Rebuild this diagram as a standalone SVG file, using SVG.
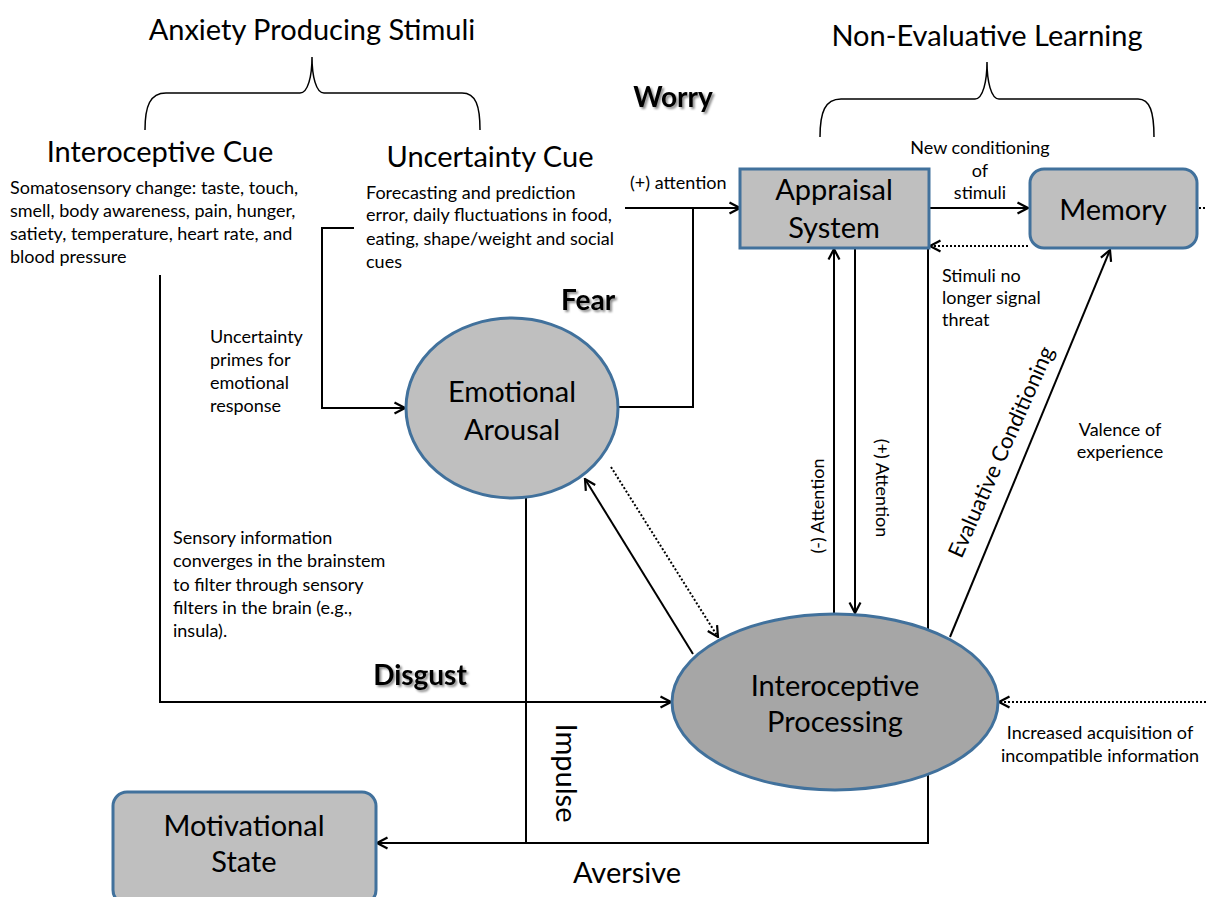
<svg xmlns="http://www.w3.org/2000/svg" width="1206" height="897" viewBox="0 0 1206 897">
  <defs>
    <marker id="arrow" viewBox="0 0 14 14" refX="12.5" refY="7" markerWidth="14" markerHeight="14" markerUnits="userSpaceOnUse" orient="auto">
      <path d="M2,1.5 L12.5,7 L2,12.5" fill="none" stroke="#000" stroke-width="2.2"/>
    </marker>
    <filter id="shadow" x="-20%" y="-30%" width="140%" height="160%">
      <feDropShadow dx="2" dy="2" stdDeviation="1.2" flood-color="#000" flood-opacity="0.45"/>
    </filter>
    <style>
      text { font-family: Lato, "Liberation Sans", sans-serif; fill: #000; }
      .title { font-size: 29px; }
      .node { font-size: 29px; text-anchor: middle; }
      .small { font-size: 18px; }
      .mid { text-anchor: middle; }
      .bold { font-size: 28px; font-weight: bold; filter: url(#shadow); }
      .line { fill: none; stroke: #000; stroke-width: 2; }
      .dot { fill: none; stroke: #000; stroke-width: 2; stroke-dasharray: 2 2; }
      .arr { marker-end: url(#arrow); }
      .brace { fill: none; stroke: #000; stroke-width: 1.5; }
      .shape { fill: #bfbfbf; stroke: #41719c; stroke-width: 3; }
      .dark { fill: #a6a6a6; }
    </style>
  </defs>

  <rect x="0" y="0" width="1206" height="897" fill="#fff"/>

  <!-- headings and braces -->
  <g id="headings">
    <text class="title mid" x="312" y="40">Anxiety Producing Stimuli</text>
    <path class="brace" d="M145,130 C145,106 150,93 166,93 L300,93 C308,93 312,76 312,57 C312,76 316,93 324,93 L462,93 C476,93 480,106 480,130"/>
    <text class="title mid" x="987" y="46">Non-Evaluative Learning</text>
    <path class="brace" d="M820,137 C820,112 825,99 841,99 L975,99 C983,99 987,81 987,62 C987,81 991,99 999,99 L1138,99 C1150,99 1154,112 1154,137"/>
  </g>

  <!-- connectors -->
  <g id="connectors">
    <polyline class="line arr" points="354,228 322,228 322,408 405,408"/>
    <polyline class="line arr" points="160,275 160,702 671,702"/>
    <polyline class="line" points="618,407 693,407 693,208"/>
    <line class="line arr" x1="625" y1="208" x2="740" y2="208"/>
    <line class="line arr" x1="929" y1="208" x2="1028" y2="208"/>
    <line class="dot arr" x1="1028" y1="246" x2="930" y2="246"/>
    <line class="dot" x1="1199" y1="208" x2="1206" y2="208"/>
    <line class="line arr" x1="834" y1="614" x2="834" y2="249"/>
    <line class="line arr" x1="855" y1="248" x2="855" y2="613"/>
    <polyline class="line arr" points="928,248 928,843 377,843"/>
    <line class="line" x1="526" y1="497" x2="526" y2="843"/>
    <line class="line arr" x1="950" y1="637" x2="1110" y2="250"/>
    <line class="dot arr" x1="1206" y1="702" x2="999" y2="702"/>
    <line class="line arr" x1="693" y1="654" x2="585" y2="479"/>
    <line class="dot arr" x1="611" y1="467" x2="718" y2="637"/>
  </g>

  <!-- cue descriptions -->
  <g id="interoceptive-cue">
    <text class="title mid" x="160" y="162">Interoceptive Cue</text>
    <text class="small" x="10" y="194">Somatosensory change: taste, touch,</text>
    <text class="small" x="10" y="217">smell, body awareness, pain, hunger,</text>
    <text class="small" x="10" y="240">satiety, temperature, heart rate, and</text>
    <text class="small" x="10" y="263">blood pressure</text>
  </g>
  <g id="uncertainty-cue">
    <text class="title mid" x="490" y="167">Uncertainty  Cue</text>
    <text class="small" x="366" y="199">Forecasting and prediction</text>
    <text class="small" x="366" y="221">error, daily fluctuations in food,</text>
    <text class="small" x="366" y="245">eating, shape/weight and social</text>
    <text class="small" x="366" y="268">cues</text>
  </g>

  <!-- connector labels -->
  <g id="labels">
    <text class="bold mid" x="673" y="107">Worry</text>
    <text class="bold mid" x="588" y="310">Fear</text>
    <text class="bold mid" x="420" y="685">Disgust</text>
    <text class="small" x="630" y="189">(+) attention</text>
    <text class="small mid" x="980" y="154">New conditioning</text>
    <text class="small mid" x="980" y="177">of</text>
    <text class="small mid" x="980" y="199">stimuli</text>
    <text class="small" x="942" y="282">Stimuli no</text>
    <text class="small" x="942" y="304">longer signal</text>
    <text class="small" x="942" y="326">threat</text>
    <text class="small" x="210" y="343">Uncertainty</text>
    <text class="small" x="210" y="366">primes for</text>
    <text class="small" x="210" y="389">emotional</text>
    <text class="small" x="210" y="412">response</text>
    <text class="small" x="173" y="544">Sensory information</text>
    <text class="small" x="173" y="567">converges in the brainstem</text>
    <text class="small" x="173" y="591">to filter through sensory</text>
    <text class="small" x="173" y="614">filters in the brain (e.g.,</text>
    <text class="small" x="173" y="637">insula).</text>
    <text class="small mid" x="1120" y="436">Valence of</text>
    <text class="small mid" x="1120" y="458">experience</text>
    <text class="small mid" x="1100" y="739">Increased acquisition of</text>
    <text class="small mid" x="1100" y="762">incompatible information</text>
    <text class="small mid" transform="translate(824,506) rotate(-90)">(-) Attention</text>
    <text class="small mid" transform="translate(876,488) rotate(90)">(+) Attention</text>
    <text class="mid" style="font-size:22px" transform="translate(1008,455) rotate(-66)">Evaluative Conditioning</text>
    <text class="mid" style="font-size:29px" transform="translate(556,773) rotate(90)">Impulse</text>
    <text class="mid" style="font-size:29px" x="627" y="883">Aversive</text>
  </g>

  <!-- nodes -->
  <g id="emotional-arousal">
    <ellipse class="shape" cx="512" cy="408" rx="106" ry="90"/>
    <text class="node" x="512" y="402">Emotional</text>
    <text class="node" x="512" y="440">Arousal</text>
  </g>
  <g id="appraisal-system">
    <rect class="shape" x="740" y="169" width="189" height="79"/>
    <text class="node" x="834" y="200">Appraisal</text>
    <text class="node" x="834" y="238">System</text>
  </g>
  <g id="memory">
    <rect class="shape" x="1030" y="169" width="167" height="79" rx="14"/>
    <text class="node" x="1113" y="220">Memory</text>
  </g>
  <g id="interoceptive-processing">
    <ellipse class="shape dark" cx="835" cy="702" rx="163" ry="88"/>
    <text class="node" x="835" y="696">Interoceptive</text>
    <text class="node" x="835" y="732">Processing</text>
  </g>
  <g id="motivational-state">
    <rect class="shape" x="113" y="792" width="263" height="112" rx="14"/>
    <text class="node" x="244" y="836">Motivational</text>
    <text class="node" x="244" y="872">State</text>
  </g>
</svg>
